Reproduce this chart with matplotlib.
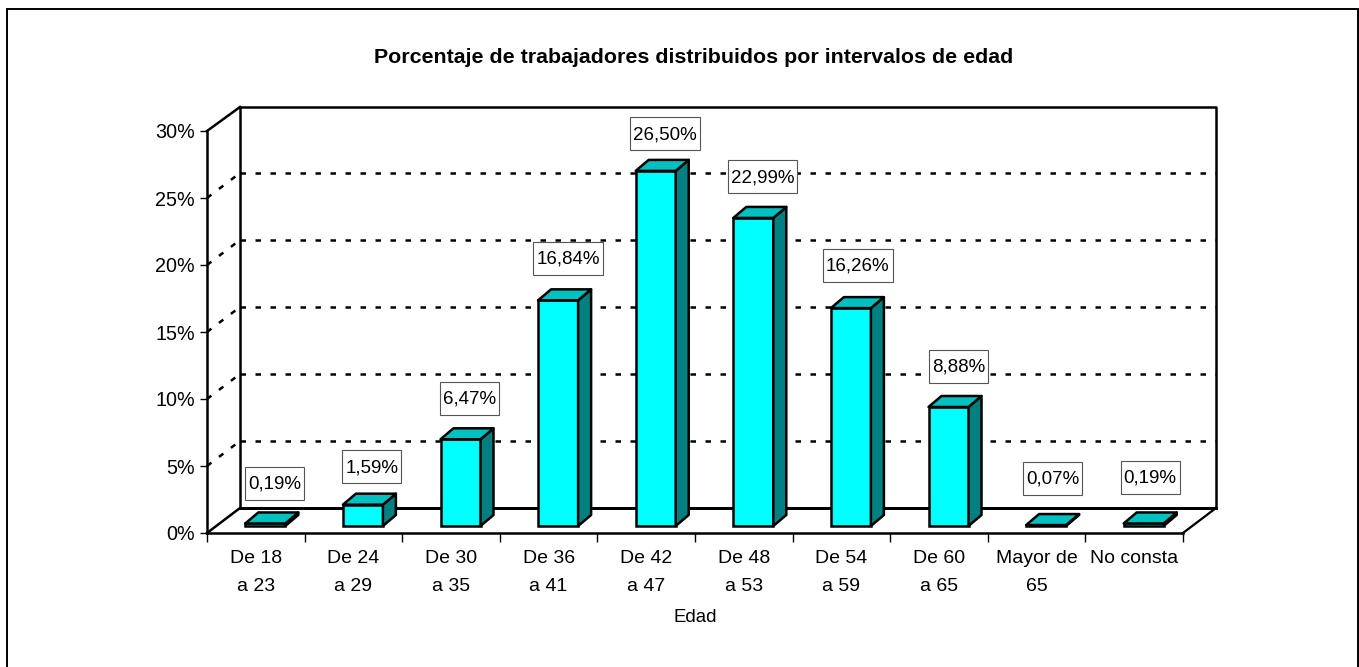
import matplotlib
matplotlib.use("Agg")
import matplotlib.pyplot as plt
from matplotlib.patches import Polygon, Rectangle
from matplotlib.transforms import Affine2D

plt.rcParams['font.family'] = ['Liberation Sans', 'DejaVu Sans']

categories = ['De 18\na 23', 'De 24\na 29', 'De 30\na 35', 'De 36\na 41', 'De 42\na 47',
              'De 48\na 53', 'De 54\na 59', 'De 60\na 65', 'Mayor de\n65', 'No consta']
values = [0.19, 1.59, 6.47, 16.84, 26.50, 22.99, 16.26, 8.88, 0.07, 0.19]
value_labels = ['0,19%', '1,59%', '6,47%', '16,84%', '26,50%', '22,99%', '16,26%', '8,88%', '0,07%', '0,19%']
y_ticks = [0, 5, 10, 15, 20, 25, 30]
y_tick_labels = ['0%', '5%', '10%', '15%', '20%', '25%', '30%']

W, H = 1359, 667
fig = plt.figure(figsize=(W / 100, H / 100), dpi=100)
# outer frame, its bottom edge falls off the picture
fig.patches.append(Rectangle((6.5 / W, 1 - 680 / H), 1351 / W, 671 / H, transform=fig.transFigure,
                             fc='white', ec='black', lw=1.4, zorder=-1))

# front plane of the fake 3d box
ax = fig.add_axes([207 / W, 134 / H, 976 / W, 402 / H])
ax.set_xlim(0, 10)
ax.set_ylim(0, 30)
ax.patch.set_alpha(0)
px = 10 / 976   # x data per pixel
py = 30 / 402   # y data per pixel
wall_x, wall_y = 33 * px, 25 * py   # box depth
LW = 1.8
DOT = (0, (2.2, 3.8))

# walls
ax.plot([wall_x, wall_x, 10 + wall_x, 10 + wall_x], [wall_y, 30 + wall_y - py, 30 + wall_y - py, wall_y],
        color='black', lw=LW, clip_on=False, zorder=2)
ax.plot([0, wall_x], [30, 30 + wall_y - py], color='black', lw=LW, clip_on=False, zorder=2)
ax.plot([wall_x, 10 + wall_x], [wall_y, wall_y], color='black', lw=LW * 1.2, clip_on=False, zorder=2)
ax.plot([0, wall_x], [0, wall_y], color='black', lw=LW, clip_on=False, zorder=2)
ax.plot([10, 10 + wall_x], [0, wall_y], color='black', lw=LW * 0.9, clip_on=False, zorder=2)
for t in y_ticks[1:-1]:
    ax.plot([wall_x, 10 + wall_x], [t + wall_y, t + wall_y], color='black', lw=LW, ls=DOT, clip_on=False, zorder=2)
    ax.plot([0, wall_x], [t, t + wall_y], color='black', lw=LW, ls=DOT, clip_on=False, zorder=2)

# bars
xs = [i + 0.5 for i in range(len(values))]
shift = Affine2D().translate(9.5, 7)
bar_w = 40 * px
dep_x, dep_y = 13 * px, 11 * py
front = ax.bar(xs, values, bar_w, color='#00FFFF', edgecolor='black', linewidth=LW,
               transform=ax.transData + shift, clip_on=False, zorder=3)
for x, v in zip(xs, values):
    l, r = x - bar_w / 2, x + bar_w / 2
    top = Polygon([(l, v), (r, v), (r + dep_x, v + dep_y), (l + dep_x, v + dep_y)], closed=True,
                  fc='#00C0C0', ec='black', lw=LW, joinstyle='round', transform=ax.transData + shift,
                  clip_on=False, zorder=3)
    side = Polygon([(r, 0), (r + dep_x, dep_y), (r + dep_x, v + dep_y), (r, v)], closed=True,
                   fc='#008080', ec='black', lw=LW, joinstyle='round', transform=ax.transData + shift,
                   clip_on=False, zorder=3)
    ax.add_patch(side)
    ax.add_patch(top)

# value labels, hand placed in the original; box is wider in y than the text so drawn apart
label_dx = [9.5, 9, 9, 10, 9, 9, 7, 10, 6.5, 6.5]
label_dy = [40, 38, 41, 42, 37, 41, 43, 41, 47, 46]
renderer = fig.canvas.get_renderer()
for x, v, s, dx, dy in zip(xs, values, value_labels, label_dx, label_dy):
    t = ax.annotate(s, (x, v), xycoords=ax.transData + shift, xytext=(dx * 0.72, (dy - 1) * 0.72),
                    textcoords='offset points', ha='center', va='center', fontsize=13.5, color='black', zorder=5)
    ext = t.get_window_extent(renderer)
    cx, cy = (ax.transData + shift).transform((x, v))
    bw = ext.width + 6
    ax.add_patch(Rectangle((cx + dx - bw / 2, cy + dy - 16.5), bw, 33, transform=None,
                           fc='white', ec='#555555', lw=0.8, clip_on=False, zorder=4))

for side_name in ['top', 'right']:
    ax.spines[side_name].set_visible(False)
ax.spines['left'].set_linewidth(LW)
ax.spines['bottom'].set_linewidth(LW)
ax.set_yticks(y_ticks)
ax.set_yticklabels(y_tick_labels, fontsize=14.2)
ax.tick_params(axis='y', length=5, width=1, pad=3.7)
ax.set_xticks(range(11))
ax.set_xticklabels([])
ax.tick_params(axis='x', which='major', length=6.5, width=1)
ax.set_xticks(xs, minor=True)
ax.set_xticklabels(categories, minor=True, fontsize=14, linespacing=1.8)
ax.tick_params(axis='x', which='minor', length=0, pad=12.5)

fig.text(695 / W, 1 - 617 / H, 'Edad', ha='center', va='center', fontsize=13.4)
fig.text(693.5 / W, 1 - 57.5 / H, 'Porcentaje de trabajadores distribuidos por intervalos de edad',
         ha='center', va='center', fontsize=15.4, fontweight='bold')

fig.savefig('out.png', dpi=100)
